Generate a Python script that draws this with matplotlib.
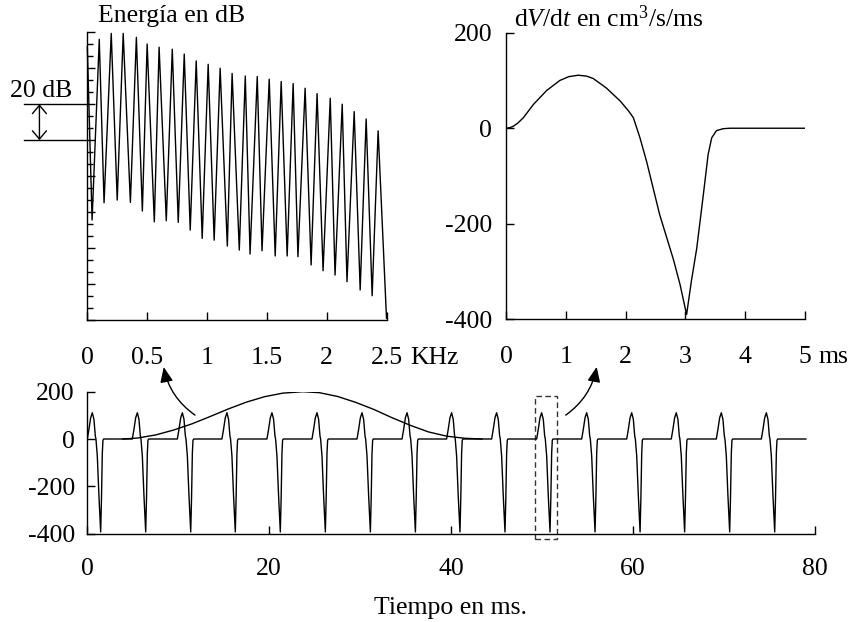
import matplotlib
matplotlib.use("Agg")
import matplotlib.pyplot as plt
import numpy as np
from matplotlib.patches import Rectangle
from matplotlib.ticker import MultipleLocator

plt.rcParams["font.family"] = ["Liberation Serif", "DejaVu Serif"]
plt.rcParams["mathtext.fontset"] = "custom"
plt.rcParams["mathtext.rm"] = "Liberation Serif"
plt.rcParams["mathtext.it"] = "Liberation Serif:italic"
plt.rcParams["axes.unicode_minus"] = False

# --- spectrum (top left): harmonic peaks and the valleys before them, dB
spec_start = (0.0, 152.0)
spec_end = (2.5, 1.0)
peak_khz = [0.10, 0.20, 0.30, 0.41, 0.50, 0.60, 0.71, 0.81, 0.91, 1.01, 1.11, 1.21,
            1.32, 1.42, 1.52, 1.62, 1.72, 1.82, 1.92, 2.03, 2.13, 2.23, 2.33, 2.43]
peak_db = [156.1, 159.4, 159.4, 157.2, 153.5, 151.7, 150.6, 147.9, 144.1, 142.2, 140.0, 137.1,
           135.7, 135.4, 133.9, 132.6, 131.5, 128.9, 125.9, 123.3, 120.0, 115.9, 111.8, 105.2]
valley_khz = [0.04, 0.14, 0.25, 0.36, 0.46, 0.56, 0.66, 0.76, 0.86, 0.96, 1.06, 1.17,
              1.27, 1.36, 1.46, 1.57, 1.67, 1.76, 1.87, 1.97, 2.07, 2.17, 2.28, 2.38]
valley_db = [55.6, 65.2, 66.7, 65.4, 60.6, 54.6, 55.2, 54.3, 50.0, 45.4, 44.4, 41.1,
             38.9, 36.7, 38.5, 35.6, 35.6, 35.2, 30.6, 27.4, 25.0, 21.3, 16.7, 13.5]

# --- one glottal pulse dV/dt (top right)
pulse_ms = [0.0, 0.06, 0.12, 0.2, 0.29, 0.46, 0.68, 0.90, 1.05, 1.21, 1.35, 1.46, 1.68, 1.91,
            2.05, 2.13, 2.24, 2.35, 2.46, 2.57, 2.69, 2.80, 2.91, 3.02, 3.10, 3.19, 3.30,
            3.38, 3.44, 3.52, 3.63, 3.74, 5.0]
pulse_val = [0, 1, 4, 11, 22, 50, 79, 100, 108, 111, 109, 104, 84, 57,
             36, 22, -20, -69, -125, -181, -230, -275, -327, -390, -320, -251, -139,
             -55, -20, -5, -1, 0, 0]

# --- pulse train (bottom)
train_onsets = [0.0, 4.95, 9.9, 14.8, 19.75, 24.7, 29.65, 34.6, 39.5, 44.45, 49.4, 54.35,
                59.3, 64.2, 69.15, 74.1]
train_dt = [0.0, 0.18, 0.37, 0.55, 0.73, 0.88, 0.95, 1.10, 1.28, 1.47, 1.56, 1.65, 1.72, 1.80]
train_val = [0, 41, 90, 111, 83, 13, 0, -72, -241, -393, -250, -60, -5, 0]
train_end = 79.0
env_ms = [3.9, 5.5, 7.5, 9.5, 11.5, 13.5, 15.5, 17.5, 19.5, 21.5, 23.7,
          25.5, 27.5, 29.5, 31.5, 33.5, 35.5, 37.5, 39.5, 41.5, 43.4]
env_val = [0, 4, 17, 38, 64, 95, 127, 156, 179, 194, 200,
           196, 180, 155, 125, 90, 58, 30, 12, 3, 0]

W, H = 851, 622
fig = plt.figure(figsize=(W / 100, H / 100), dpi=100)


def px_axes(left, top, right, bottom):
    return fig.add_axes([left / W, 1 - bottom / H, (right - left) / W, (bottom - top) / H])


def style(ax, xpad, ypad):
    for s in ("top", "right"):
        ax.spines[s].set_visible(False)
    for s in ("left", "bottom"):
        ax.spines[s].set_linewidth(1.0)
    ax.tick_params(direction="in", length=6, width=1.0, labelsize=18.5)
    ax.tick_params(axis="x", pad=xpad)
    ax.tick_params(axis="y", pad=ypad)


ax_spec = px_axes(87.3, 32.3, 386.5, 320)
ax_flow = px_axes(506, 32.7, 805, 319.3)
ax_train = px_axes(87.3, 391.7, 815, 533.6)

# spectrum
spec_f = [spec_start[0]]
spec_l = [spec_start[1]]
for vf, vl, pf, pl in zip(valley_khz, valley_db, peak_khz, peak_db):
    spec_f += [vf, pf]
    spec_l += [vl, pl]
spec_f.append(spec_end[0])
spec_l.append(spec_end[1])
ax_spec.plot(spec_f, spec_l, color="black", lw=1.0, clip_on=False,
             solid_joinstyle="round")
ax_spec.set_xlim(0, 2.5)
ax_spec.set_ylim(0, 160)
style(ax_spec, 19.5, 8)
ax_spec.set_xticks([0, 0.5, 1, 1.5, 2, 2.5])
ax_spec.set_xticklabels(["0", "0.5", "1", "1.5", "2", "2.5"])
ax_spec.yaxis.set_major_locator(MultipleLocator(20))
ax_spec.yaxis.set_minor_locator(MultipleLocator(20 / 3))
ax_spec.tick_params(axis="y", which="both", labelleft=False)
ax_spec.tick_params(axis="y", which="minor", direction="in", length=4, width=1.0)
ax_spec.annotate("KHz", xy=(2.5, 0), xycoords=("data", "axes fraction"),
                 xytext=(17, -19.5), textcoords="offset points",
                 ha="left", va="top", fontsize=18.5, annotation_clip=False)

# 20 dB marker
for lev in (100, 120):
    ax_spec.plot([-0.53, 0], [lev, lev], color="black", lw=1.0, clip_on=False)
ax_spec.annotate("", xy=(-0.40, 120), xytext=(-0.40, 100),
                 arrowprops=dict(arrowstyle="<->,head_length=0.5,head_width=0.42",
                                 color="black", lw=1.0, mutation_scale=12,
                                 shrinkA=0, shrinkB=0),
                 annotation_clip=False)
fig.text(10 / W, 1 - 96.7 / H, "20 dB", fontsize=18.5, va="baseline", ha="left")
fig.text(98 / W, 1 - 21.7 / H, "Energía en dB", fontsize=18.5, va="baseline", ha="left")

# single pulse
ax_flow.plot(pulse_ms, pulse_val, color="black", lw=1.0)
ax_flow.set_xlim(0, 5)
ax_flow.set_ylim(-400, 200)
style(ax_flow, 19.5, 10)
ax_flow.set_xticks([0, 1, 2, 3, 4, 5])
ax_flow.set_yticks([-400, -200, 0, 200])
ax_flow.annotate("ms", xy=(5, 0), xycoords=("data", "axes fraction"),
                 xytext=(9.5, -19.5), textcoords="offset points",
                 ha="left", va="top", fontsize=18.5, annotation_clip=False)
fig.text(514 / W, 1 - 27 / H, r"d$V$/d$t$ en cm$^3$/s/ms", fontsize=18.5,
         va="baseline", ha="left")

# pulse train
tr_t, tr_v = [], []
for t0 in train_onsets:
    tr_t += [t0 + d for d in train_dt]
    tr_v += train_val
tr_t.append(train_end)
tr_v.append(0)
ax_train.plot(tr_t, tr_v, color="black", lw=1.0)
ax_train.plot(env_ms, env_val, color="black", lw=1.0)
ax_train.set_xlim(0, 80)
ax_train.set_ylim(-400, 200)
style(ax_train, 17.5, 9)
ax_train.set_xticks([0, 20, 40, 60, 80])
ax_train.set_yticks([-400, -200, 0, 200])

ax_train.add_patch(Rectangle((49.2, -424), 2.4, 607, fill=False, edgecolor="#333333",
                             lw=1.0, linestyle=(0, (4, 2.5)), clip_on=False))

arrow_style = "-|>,head_length=0.7,head_width=0.3"
ax_train.annotate("", xy=(8.4, 304), xytext=(11.84, 101),
                  arrowprops=dict(arrowstyle=arrow_style, color="black", lw=1.0,
                                  mutation_scale=13, shrinkA=0, shrinkB=0,
                                  connectionstyle="arc3,rad=-0.2"),
                  annotation_clip=False)
ax_train.annotate("", xy=(56.0, 305), xytext=(52.6, 101),
                  arrowprops=dict(arrowstyle=arrow_style, color="black", lw=1.0,
                                  mutation_scale=13, shrinkA=0, shrinkB=0,
                                  connectionstyle="arc3,rad=0.2"),
                  annotation_clip=False)

fig.text(451 / W, 1 - 614 / H, "Tiempo en ms.", fontsize=18.5, va="baseline", ha="center")

fig.savefig("out.png", dpi=100)
